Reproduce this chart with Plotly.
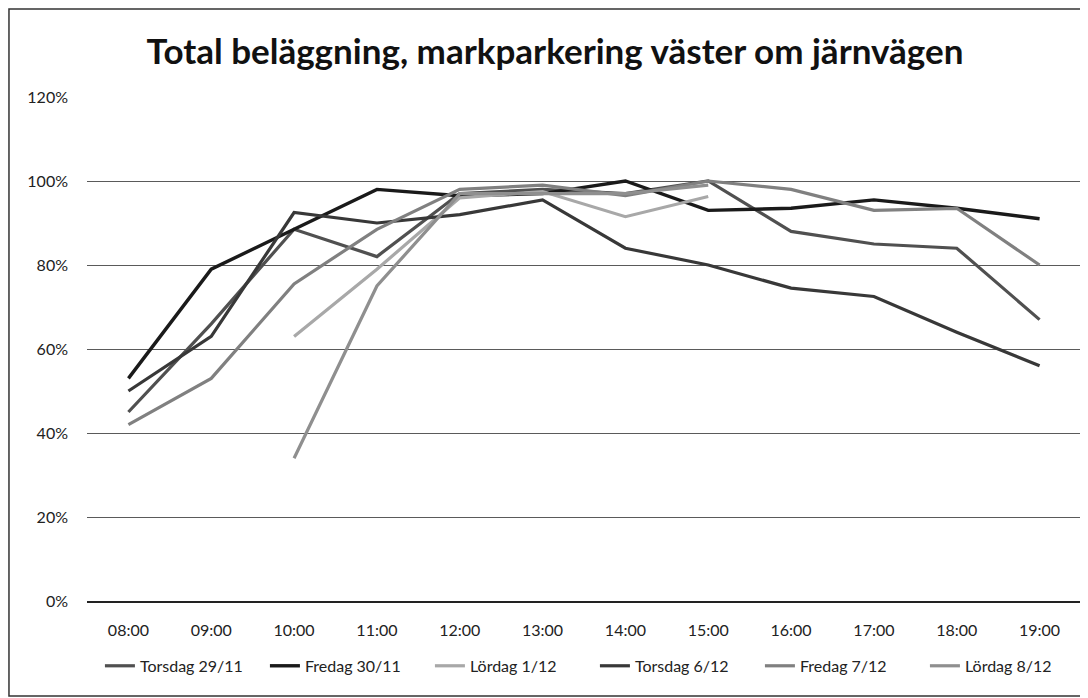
import plotly.graph_objects as go

hours = ["08:00", "09:00", "10:00", "11:00", "12:00", "13:00",
         "14:00", "15:00", "16:00", "17:00", "18:00", "19:00"]

torsdag_29_11 = [0.45, 0.66, 0.885, 0.82, 0.97, 0.98, 0.97, 1.00, 0.88, 0.85, 0.84, 0.67]
fredag_30_11 = [0.53, 0.79, 0.885, 0.98, 0.965, 0.97, 1.00, 0.93, 0.935, 0.955, 0.935, 0.91]
lordag_1_12 = [None, None, 0.63, 0.79, 0.96, 0.975, 0.915, 0.963, None, None, None, None]
torsdag_6_12 = [0.50, 0.63, 0.925, 0.90, 0.92, 0.955, 0.84, 0.80, 0.745, 0.725, 0.64, 0.56]
fredag_7_12 = [0.42, 0.53, 0.755, 0.885, 0.98, 0.99, 0.965, 1.00, 0.98, 0.93, 0.935, 0.80]
lordag_8_12 = [None, None, 0.34, 0.75, 0.97, 0.97, 0.97, 0.99, None, None, None, None]

series = [
    ("Torsdag 29/11", torsdag_29_11, "#505050", 3.2),
    ("Fredag 30/11", fredag_30_11, "#1a1a1a", 3.4),
    ("Lördag 1/12", lordag_1_12, "#a8a8a8", 3.2),
    ("Torsdag 6/12", torsdag_6_12, "#383838", 3.2),
    ("Fredag 7/12", fredag_7_12, "#808080", 3.2),
    ("Lördag 8/12", lordag_8_12, "#8f8f8f", 3.2),
]

fig = go.Figure()
for name, vals, color, w in series:
    fig.add_trace(go.Scatter(x=hours, y=vals, name=name, mode="lines",
                             line=dict(color=color, width=w)))

FONT = "Lato, 'Open Sans', sans-serif"

fig.update_layout(
    width=1080, height=690,
    margin=dict(l=79, r=7, t=89, b=97, autoexpand=False),
    paper_bgcolor="white", plot_bgcolor="white",
    font=dict(family=FONT, size=16, color="#222222"),
    title=dict(text="<b>Total beläggning, markparkering väster om järnvägen</b>",
               x=0.5065, xanchor="center", y=0.936, yanchor="middle",
               yref="container", font=dict(family=FONT, size=35, color="#111111")),
    showlegend=True,
    legend=dict(orientation="h", x=0.013, xanchor="left", y=-0.095, yanchor="top",
                font=dict(family=FONT, size=16, color="#222222"),
                entrywidth=120, entrywidthmode="pixels",
                itemwidth=30, tracegroupgap=0),
    xaxis=dict(type="category", range=[-0.5, 11.5], showgrid=False, showline=True,
               linecolor="#222222", linewidth=1.5, ticks="", ticklabelstandoff=14,
               tickfont=dict(family=FONT, size=16)),
    yaxis=dict(range=[0, 1.2], dtick=0.2, tickformat=".0%", showgrid=True,
               gridcolor="#5a5a5a", gridwidth=1, zeroline=False, showline=False,
               ticks="", ticklabelstandoff=18, tickfont=dict(family=FONT, size=16)),
    shapes=[dict(type="rect", xref="paper", yref="paper",
                 x0=-0.0785, x1=1.005, y0=-0.1885, y1=1.1746,
                 line=dict(color="#333333", width=1.5), fillcolor="rgba(0,0,0,0)")],
)

fig.write_html("out.html")
